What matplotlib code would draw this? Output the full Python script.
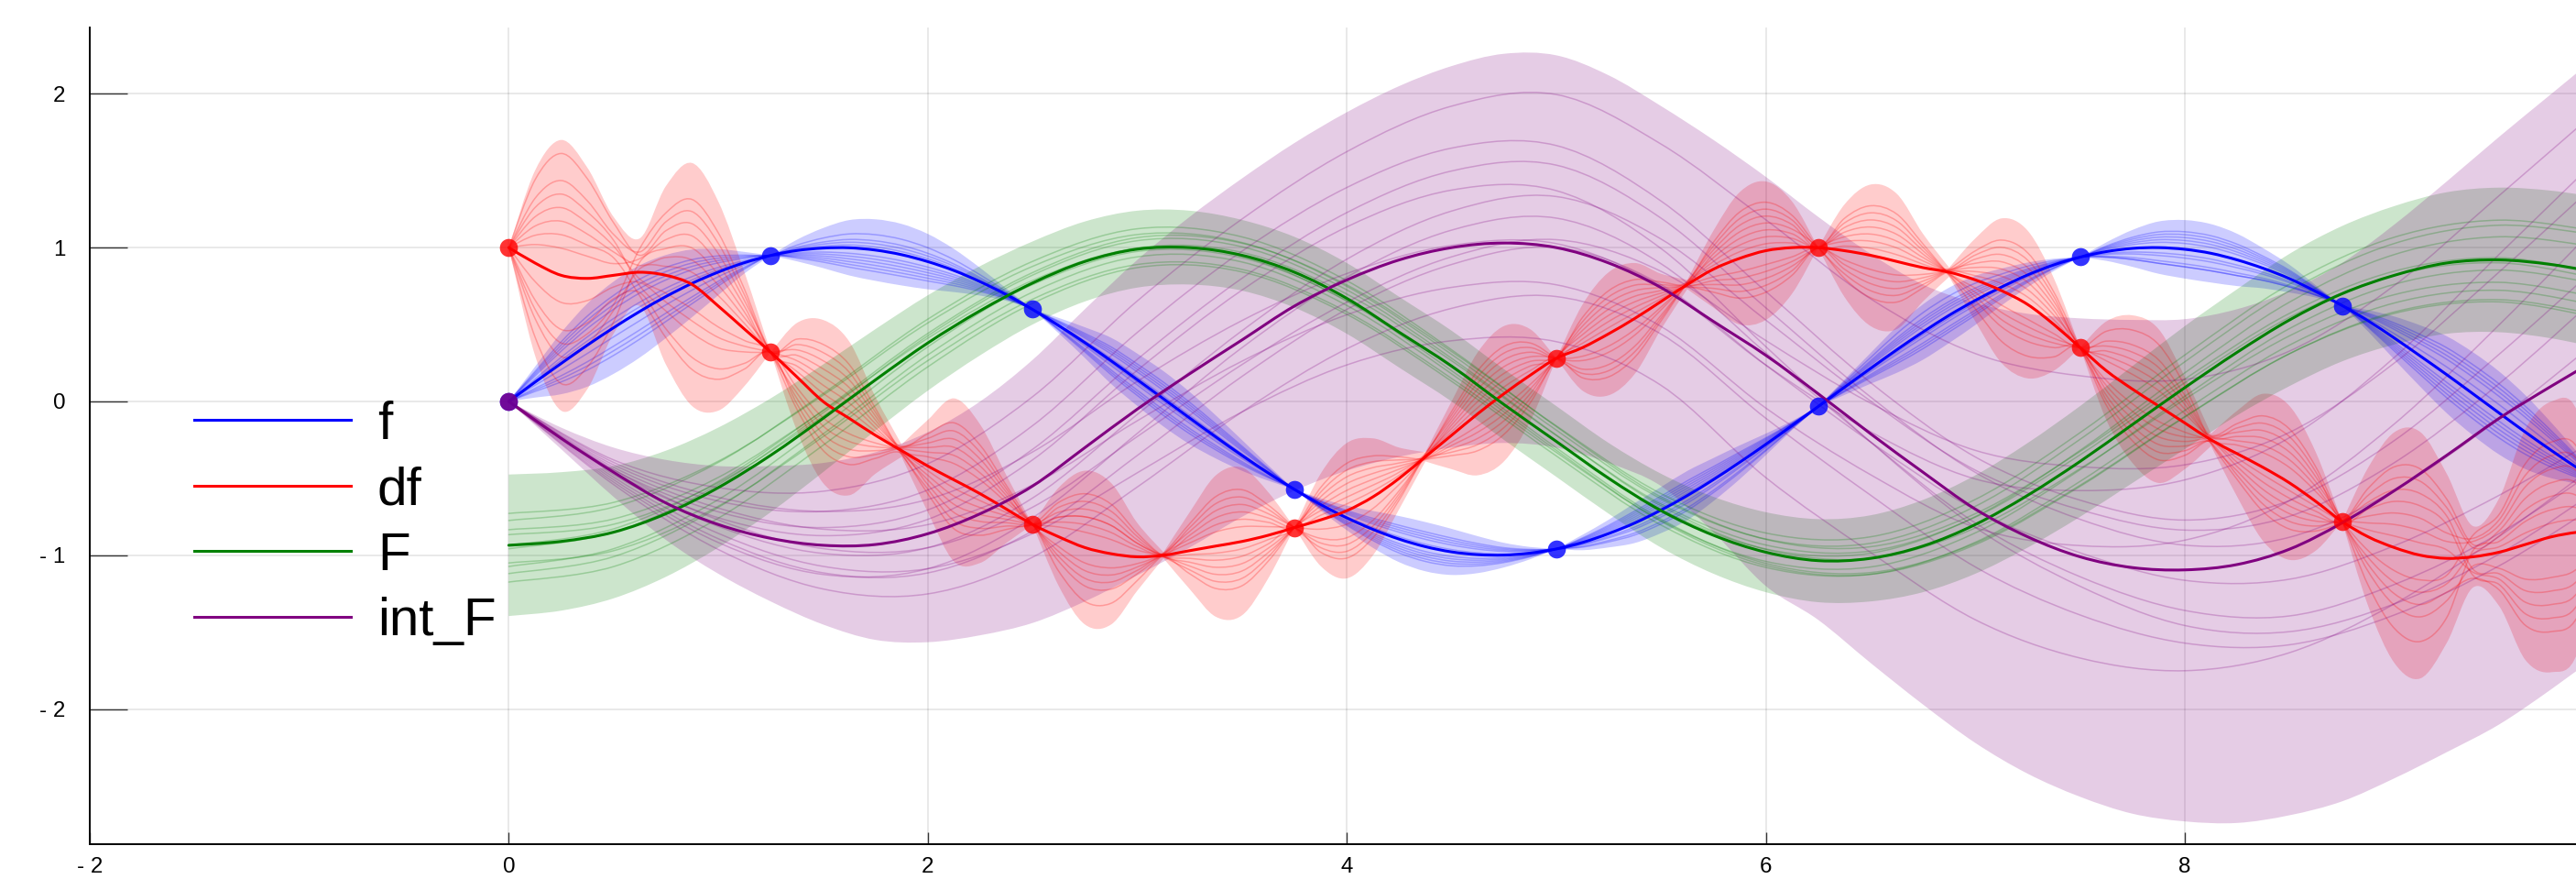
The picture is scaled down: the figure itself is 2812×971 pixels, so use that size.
import numpy as np
import matplotlib
matplotlib.use("Agg")
import matplotlib.pyplot as plt
from matplotlib.path import Path
from matplotlib.patches import PathPatch
from matplotlib.lines import Line2D

# ---------------- data ----------------
series_names = ["f", "df", "F", "int_F"]
series_colors = ["#0000ff", "#ff0000", "#008000", "#800080"]

x_ticks = [-2, 0, 2, 4, 6, 8]
x_tick_labels = ["- 2", "0", "2", "4", "6", "8"]
y_ticks = [-2, -1, 0, 1, 2]
y_tick_labels = ["- 2", "- 1", "0", "1", "2"]

# observation points
obs_x = [0.0, 1.25, 2.5, 3.75, 5.0, 6.25, 7.5, 8.75, 10.0]
f_obs = [0.0, 0.95, 0.60, -0.57, -0.96, -0.03, 0.94, 0.62, -0.54]
df_obs = [1.0, 0.32, -0.80, -0.82, 0.28, 1.0, 0.35, -0.78, -0.84]
intF_obs_x = [0.0]
intF_obs = [0.0]

# fine grid (step 0.125, x = 0 .. 10) : f and df
f_mean = [0.0, 0.125, 0.247, 0.366, 0.479, 0.585, 0.682, 0.768, 0.841, 0.902,
          0.949, 0.981, 0.997, 0.999, 0.984, 0.954, 0.909, 0.851, 0.778, 0.694,
          0.598, 0.493, 0.382, 0.264, 0.141, 0.017, -0.108, -0.231, -0.351, -0.465,
          -0.572, -0.67, -0.757, -0.832, -0.895, -0.944, -0.978, -0.996, -0.999, -0.986,
          -0.959, -0.917, -0.859, -0.79, -0.706, -0.612, -0.508, -0.396, -0.279, -0.157,
          -0.033, 0.092, 0.215, 0.336, 0.451, 0.56, 0.657, 0.744, 0.823, 0.888,
          0.938, 0.974, 0.995, 1.0, 0.989, 0.963, 0.92, 0.865, 0.798, 0.715,
          0.624, 0.524, 0.412, 0.294, 0.174, 0.05, -0.075, -0.199, -0.319, -0.434,
          -0.544]
f_halfwidth = [0.0, 0.1, 0.2, 0.27, 0.3, 0.3, 0.27, 0.22, 0.15, 0.07,
               0.0, 0.07, 0.13, 0.18, 0.2, 0.2, 0.18, 0.14, 0.09, 0.04,
               0.0, 0.05, 0.1, 0.15, 0.17, 0.18, 0.17, 0.14, 0.1, 0.05,
               0.0, 0.04, 0.08, 0.12, 0.15, 0.16, 0.15, 0.12, 0.08, 0.04,
               0.0, 0.05, 0.09, 0.13, 0.15, 0.16, 0.14, 0.11, 0.07, 0.03,
               0.0, 0.05, 0.1, 0.15, 0.18, 0.18, 0.16, 0.12, 0.08, 0.04,
               0.0, 0.06, 0.12, 0.17, 0.19, 0.19, 0.17, 0.13, 0.09, 0.04,
               0.0, 0.07, 0.14, 0.2, 0.25, 0.27, 0.27, 0.24, 0.18, 0.1,
               0.0]
df_mean = [1.0, 0.9, 0.82, 0.8, 0.82, 0.84, 0.82, 0.76, 0.62, 0.47,
           0.32, 0.16, 0.0, -0.11, -0.22, -0.32, -0.42, -0.51, -0.6, -0.7,
           -0.8, -0.88, -0.95, -0.99, -1.01, -1.0, -0.97, -0.94, -0.91, -0.87,
           -0.82, -0.77, -0.71, -0.62, -0.5, -0.36, -0.22, -0.08, 0.05, 0.17,
           0.28, 0.35, 0.44, 0.54, 0.65, 0.76, 0.86, 0.93, 0.98, 1.0,
           1.0, 0.98, 0.95, 0.91, 0.87, 0.84, 0.79, 0.72, 0.63, 0.5,
           0.35, 0.2, 0.08, -0.03, -0.14, -0.25, -0.34, -0.43, -0.53, -0.65,
           -0.78, -0.88, -0.95, -1.0, -1.02, -1.01, -0.98, -0.93, -0.88, -0.85,
           -0.84]
df_halfwidth = [0.0, 0.6, 0.88, 0.72, 0.38, 0.22, 0.58, 0.79, 0.68, 0.37,
                0.0, 0.35, 0.53, 0.5, 0.25, 0.04, 0.3, 0.53, 0.45, 0.22,
                0.0, 0.32, 0.5, 0.46, 0.22, 0.02, 0.25, 0.46, 0.48, 0.28,
                0.0, 0.3, 0.44, 0.38, 0.2, 0.03, 0.22, 0.4, 0.44, 0.3,
                0.0, 0.28, 0.4, 0.36, 0.18, 0.03, 0.25, 0.43, 0.45, 0.3,
                0.0, 0.3, 0.46, 0.44, 0.22, 0.03, 0.27, 0.47, 0.48, 0.3,
                0.0, 0.32, 0.48, 0.5, 0.3, 0.04, 0.28, 0.48, 0.5, 0.32,
                0.0, 0.45, 0.75, 0.8, 0.55, 0.2, 0.35, 0.75, 0.88, 0.78,
                0.0]

# medium grid (step 0.25, x = 0 .. 10) : F and int_F
F_mean = [-0.935, -0.91, -0.85, -0.73, -0.56, -0.35, -0.11, 0.14, 0.38, 0.59,
          0.77, 0.91, 0.99, 1.0, 0.95, 0.84, 0.67, 0.45, 0.23, -0.02,
          -0.26, -0.5, -0.71, -0.87, -0.98, -1.035, -1.02, -0.94, -0.8, -0.61,
          -0.39, -0.15, 0.09, 0.32, 0.53, 0.7, 0.82, 0.9, 0.92, 0.89,
          0.83]
F_halfwidth = [0.46, 0.45, 0.43, 0.41, 0.39, 0.37, 0.35, 0.33, 0.31, 0.29,
               0.27, 0.26, 0.25, 0.24, 0.23, 0.23, 0.23, 0.23, 0.23, 0.23,
               0.23, 0.23, 0.24, 0.25, 0.26, 0.27, 0.28, 0.3, 0.32, 0.34,
               0.36, 0.38, 0.4, 0.41, 0.43, 0.44, 0.45, 0.46, 0.47, 0.48,
               0.49]
intF_mean = [0.0, -0.24, -0.46, -0.66, -0.8, -0.89, -0.935, -0.93, -0.86, -0.73,
             -0.55, -0.3, -0.05, 0.18, 0.4, 0.62, 0.79, 0.92, 1.0, 1.03,
             1.0, 0.9, 0.74, 0.52, 0.3, 0.05, -0.21, -0.46, -0.7, -0.88,
             -1.01, -1.08, -1.095, -1.06, -0.96, -0.79, -0.58, -0.35, -0.11, 0.1,
             0.3]
intF_upper = [0.0, -0.17, -0.3, -0.38, -0.42, -0.42, -0.4, -0.33, -0.2, 0.0,
              0.27, 0.6, 0.92, 1.2, 1.45, 1.68, 1.88, 2.05, 2.18, 2.26,
              2.25, 2.12, 1.92, 1.7, 1.46, 1.2, 0.96, 0.76, 0.64, 0.57,
              0.54, 0.53, 0.535, 0.6, 0.72, 0.9, 1.15, 1.43, 1.72, 2.0,
              2.28]
intF_lower = [0.0, -0.31, -0.62, -0.9, -1.12, -1.3, -1.45, -1.55, -1.565, -1.52,
              -1.44, -1.3, -1.13, -0.95, -0.75, -0.58, -0.45, -0.36, -0.3, -0.27,
              -0.3, -0.4, -0.55, -0.85, -1.2, -1.42, -1.7, -1.97, -2.22, -2.42,
              -2.57, -2.68, -2.73, -2.74, -2.69, -2.6, -2.45, -2.28, -2.1, -1.87,
              -1.62]

# posterior sample paths, expressed as positions inside the band
# (-1 = lower edge, +1 = upper edge)
# df samples: one value per half-interval lobe (16 lobes)
df_sample_pos = [
    [0.9, 0.5, -0.3, 0.6, 0.4, -0.5, 0.2, 0.7, -0.6, 0.3, 0.5, -0.2, 0.8, -0.4, 0.3, 0.6],
    [0.6, -0.4, 0.5, -0.2, -0.7, 0.3, 0.6, -0.3, 0.4, 0.7, -0.5, 0.4, -0.3, 0.5, -0.7, 0.2],
    [-0.5, 0.7, 0.2, -0.6, 0.3, 0.6, -0.4, 0.2, 0.7, -0.3, 0.2, 0.6, 0.4, -0.6, 0.5, -0.4],
    [0.3, -0.7, -0.5, 0.4, 0.6, -0.2, -0.7, 0.5, -0.2, 0.5, 0.7, -0.5, -0.4, 0.3, -0.2, 0.7],
    [-0.8, 0.3, 0.6, 0.2, -0.4, -0.6, 0.4, -0.6, 0.3, -0.6, -0.3, 0.3, 0.6, 0.6, 0.4, -0.6],
    [0.4, 0.2, -0.6, -0.4, 0.5, 0.4, 0.1, 0.4, -0.5, 0.2, 0.4, -0.7, -0.6, -0.2, 0.7, 0.4],
    [-0.2, -0.3, 0.3, 0.7, -0.2, 0.2, -0.2, -0.5, 0.6, 0.4, -0.6, 0.1, 0.3, 0.4, -0.5, -0.3],
    [0.7, 0.6, 0.4, -0.3, 0.2, -0.4, 0.5, 0.3, 0.2, -0.4, 0.3, 0.5, -0.2, -0.5, 0.2, 0.5],
    [-0.4, -0.6, -0.2, 0.3, -0.5, 0.5, -0.5, 0.6, -0.3, 0.6, 0.1, -0.4, 0.5, 0.2, -0.4, -0.7],
    [0.2, 0.4, 0.7, -0.5, 0.7, -0.3, 0.3, -0.2, 0.5, -0.5, -0.4, 0.7, -0.5, -0.3, 0.6, 0.3],
    [0.5, -0.2, -0.4, 0.5, -0.3, 0.7, -0.6, 0.1, -0.7, 0.1, 0.6, -0.3, 0.2, 0.7, -0.3, 0.1],
    [-0.6, 0.1, 0.1, -0.1, 0.4, -0.1, 0.7, -0.4, 0.1, -0.2, -0.2, 0.2, -0.7, -0.1, 0.1, -0.5],
]
# f samples: one value per observation interval (8 intervals)
f_sample_pos = [
    [0.5, -0.6, 0.4, -0.3, 0.6, -0.4, 0.3, 0.5],
    [-0.4, -0.3, 0.6, 0.4, -0.5, 0.5, -0.6, -0.3],
    [0.7, 0.2, -0.5, 0.6, 0.2, -0.6, 0.5, 0.7],
    [-0.6, -0.7, -0.2, -0.5, 0.4, 0.3, -0.3, -0.6],
    [0.2, 0.5, 0.3, 0.1, -0.6, 0.7, 0.6, 0.2],
    [0.4, -0.4, -0.6, -0.6, -0.2, -0.2, -0.5, -0.4],
    [-0.2, 0.3, 0.1, 0.3, 0.5, 0.2, 0.2, 0.4],
    [0.6, -0.5, -0.4, -0.2, 0.3, -0.5, -0.2, -0.5],
    [-0.5, 0.1, 0.5, 0.5, -0.3, 0.4, 0.4, 0.6],
    [0.1, -0.2, -0.1, -0.4, 0.1, -0.1, -0.6, -0.2],
]
# F and int_F samples: value every 0.5 (x = 0 .. 10)
F_sample_pos = [
    [0.45, 0.45, 0.44, 0.43, 0.42, 0.4, 0.38, 0.36, 0.34, 0.33, 0.32, 0.32, 0.33, 0.35, 0.37, 0.4, 0.42, 0.44, 0.46, 0.48, 0.5],
    [0.35, 0.38, 0.42, 0.46, 0.5, 0.52, 0.53, 0.52, 0.5, 0.46, 0.42, 0.37, 0.32, 0.27, 0.22, 0.18, 0.14, 0.1, 0.06, 0.03, 0.0],
    [0.15, 0.12, 0.08, 0.04, 0.0, -0.04, -0.06, -0.07, -0.06, -0.03, 0.0, 0.04, 0.08, 0.12, 0.16, 0.2, 0.24, 0.27, 0.3, 0.32, 0.34],
    [-0.05, 0.0, 0.05, 0.1, 0.15, 0.19, 0.22, 0.24, 0.24, 0.22, 0.18, 0.13, 0.07, 0.0, -0.07, -0.13, -0.19, -0.24, -0.28, -0.31, -0.33],
    [-0.25, -0.28, -0.31, -0.34, -0.37, -0.39, -0.4, -0.4, -0.38, -0.35, -0.31, -0.27, -0.23, -0.2, -0.17, -0.15, -0.14, -0.13, -0.13, -0.14, -0.15],
    [-0.4, -0.37, -0.33, -0.29, -0.25, -0.22, -0.2, -0.19, -0.2, -0.22, -0.25, -0.29, -0.33, -0.37, -0.41, -0.45, -0.48, -0.51, -0.53, -0.55, -0.56],
    [-0.52, -0.52, -0.51, -0.5, -0.5, -0.49, -0.48, -0.47, -0.45, -0.43, -0.41, -0.39, -0.38, -0.37, -0.36, -0.36, -0.37, -0.38, -0.4, -0.42, -0.44],
    [0.22, 0.2, 0.17, 0.14, 0.1, 0.06, 0.02, -0.03, -0.08, -0.13, -0.18, -0.23, -0.28, -0.33, -0.38, -0.43, -0.47, -0.51, -0.55, -0.58, -0.6],
    [0.0, 0.05, 0.1, 0.15, 0.2, 0.25, 0.3, 0.34, 0.38, 0.41, 0.44, 0.46, 0.48, 0.5, 0.51, 0.52, 0.53, 0.54, 0.55, 0.55, 0.55],
    [-0.3, -0.25, -0.2, -0.14, -0.08, -0.02, 0.03, 0.08, 0.12, 0.15, 0.17, 0.18, 0.18, 0.17, 0.15, 0.12, 0.08, 0.04, 0.0, -0.04, -0.08],
]
intF_sample_pos = [
    [0, 0.5, 0.6, 0.65, 0.7, 0.72, 0.74, 0.76, 0.78, 0.79, 0.8, 0.8, 0.79, 0.78, 0.77, 0.76, 0.76, 0.77, 0.78, 0.8, 0.82],
    [0, 0.3, 0.35, 0.4, 0.45, 0.5, 0.54, 0.57, 0.58, 0.57, 0.54, 0.5, 0.44, 0.37, 0.3, 0.24, 0.2, 0.2, 0.22, 0.26, 0.3],
    [0, 0.1, 0.15, 0.2, 0.26, 0.32, 0.37, 0.41, 0.44, 0.45, 0.44, 0.41, 0.36, 0.3, 0.23, 0.16, 0.1, 0.06, 0.04, 0.04, 0.05],
    [0, -0.1, -0.12, -0.12, -0.1, -0.05, 0.02, 0.1, 0.18, 0.24, 0.28, 0.3, 0.3, 0.28, 0.24, 0.2, 0.16, 0.14, 0.14, 0.16, 0.2],
    [0, -0.3, -0.35, -0.36, -0.34, -0.3, -0.24, -0.17, -0.1, -0.04, 0.02, 0.06, 0.08, 0.08, 0.06, 0.02, -0.04, -0.1, -0.16, -0.22, -0.28],
    [0, -0.5, -0.55, -0.56, -0.54, -0.5, -0.44, -0.38, -0.32, -0.27, -0.23, -0.2, -0.18, -0.18, -0.2, -0.24, -0.29, -0.35, -0.41, -0.46, -0.5],
    [0, 0.2, 0.22, 0.18, 0.12, 0.05, -0.02, -0.08, -0.13, -0.16, -0.17, -0.16, -0.13, -0.08, -0.02, 0.05, 0.12, 0.2, 0.28, 0.36, 0.44],
    [0, -0.2, -0.25, -0.28, -0.3, -0.32, -0.35, -0.38, -0.41, -0.44, -0.46, -0.47, -0.47, -0.46, -0.44, -0.42, -0.4, -0.38, -0.37, -0.36, -0.36],
    [0, 0.4, 0.42, 0.4, 0.36, 0.3, 0.23, 0.16, 0.1, 0.06, 0.04, 0.05, 0.08, 0.13, 0.2, 0.28, 0.36, 0.44, 0.52, 0.6, 0.66],
    [0, -0.4, -0.42, -0.38, -0.3, -0.2, -0.1, 0.0, 0.08, 0.14, 0.17, 0.17, 0.14, 0.08, 0.0, -0.08, -0.16, -0.24, -0.3, -0.35, -0.38],
    [0, 0.0, 0.04, 0.1, 0.17, 0.24, 0.3, 0.34, 0.36, 0.35, 0.31, 0.25, 0.17, 0.08, -0.02, -0.12, -0.22, -0.3, -0.37, -0.42, -0.45],
    [0, 0.1, 0.0, -0.06, -0.1, -0.12, -0.12, -0.1, -0.06, 0.0, 0.06, 0.13, 0.2, 0.27, 0.33, 0.38, 0.42, 0.46, 0.5, 0.54, 0.58],
]

# ---------------- helpers ----------------
def bezier_path(x, y, breaks=()):
    pts = np.column_stack([np.asarray(x, float), np.asarray(y, float)])
    n = len(pts)
    brk = set(breaks)
    verts = [pts[0]]
    codes = [Path.MOVETO]
    for i in range(n - 1):
        p1, p2 = pts[i], pts[i + 1]
        p0 = pts[i - 1] if (i > 0 and i not in brk) else p1
        p3 = pts[i + 2] if (i + 2 < n and (i + 1) not in brk) else p2
        verts += [p1 + (p2 - p0) / 6.0, p2 - (p3 - p1) / 6.0, p2]
        codes += [Path.CURVE4] * 3
    return verts, codes


def smooth_line(ax, x, y, color, lw, alpha=1.0, z=3):
    v, c = bezier_path(x, y)
    ax.add_patch(PathPatch(Path(v, c), fill=False, edgecolor=color, lw=lw,
                           alpha=alpha, zorder=z, capstyle="round", joinstyle="round"))


def smooth_band(ax, x, lo, hi, color, alpha, breaks=(), z=1):
    x = np.asarray(x, float)
    n = len(x)
    v1, c1 = bezier_path(x, hi, breaks)
    rb = [n - 1 - b for b in breaks]
    v2, c2 = bezier_path(x[::-1], np.asarray(lo)[::-1], rb)
    c2[0] = Path.LINETO
    verts = v1 + v2 + [v1[0]]
    codes = c1 + c2 + [Path.CLOSEPOLY]
    ax.add_patch(PathPatch(Path(verts, codes), facecolor=color, edgecolor="none",
                           alpha=alpha, zorder=z))


# ---------------- figure ----------------
plt.rcParams["font.family"] = ["Liberation Sans", "DejaVu Sans"]
fig = plt.figure(figsize=(14.06, 4.855), dpi=200)
ax = fig.add_axes([0.03485, 0.0515, 0.96515, 0.9171])

x_fine = np.arange(len(f_mean)) * 0.125
x_med = np.arange(len(F_mean)) * 0.25
x_coarse = np.arange(len(F_sample_pos[0])) * 0.5

BAND_A = 0.2
SAMPLE_A = 0.25
SAMPLE_LW = 0.55
MEAN_LW = 1.1

cf, cdf, cF, cI = series_colors

fm, fw = np.array(f_mean), np.array(f_halfwidth)
dm, dw = np.array(df_mean), np.array(df_halfwidth)
Fm, Fw = np.array(F_mean), np.array(F_halfwidth)
Im, Ilo, Ihi = np.array(intF_mean), np.array(intF_lower), np.array(intF_upper)

f_breaks = [i for i in range(len(fw)) if fw[i] <= 0.0]
df_breaks = [i for i in range(len(dw)) if dw[i] <= 0.05]

# bands
smooth_band(ax, x_fine, fm - fw, fm + fw, cf, BAND_A, f_breaks)
smooth_band(ax, x_fine, dm - dw, dm + dw, cdf, BAND_A, df_breaks)
smooth_band(ax, x_med, Fm - Fw, Fm + Fw, cF, BAND_A)
smooth_band(ax, x_med, Ilo, Ihi, cI, BAND_A, [0])

# samples
for pos in f_sample_pos:
    zz = np.append(np.repeat(pos, 10), pos[-1])
    smooth_line(ax, x_fine, fm + zz * fw, cf, SAMPLE_LW, SAMPLE_A, 2)
for pos in df_sample_pos:
    zz = np.append(np.repeat(pos, 5), pos[-1])
    smooth_line(ax, x_fine, dm + zz * dw, cdf, SAMPLE_LW, SAMPLE_A, 2)
for pos in F_sample_pos:
    smooth_line(ax, x_coarse, Fm[::2] + np.array(pos) * Fw[::2], cF, SAMPLE_LW, SAMPLE_A, 2)
Ic = (Ihi + Ilo) / 2.0
Ih = (Ihi - Ilo) / 2.0
for pos in intF_sample_pos:
    smooth_line(ax, x_coarse, Ic[::2] + np.array(pos) * Ih[::2], cI, SAMPLE_LW, SAMPLE_A, 2)

# means
smooth_line(ax, x_fine, fm, cf, MEAN_LW, 1.0, 3)
smooth_line(ax, x_fine, dm, cdf, MEAN_LW, 1.0, 3)
smooth_line(ax, x_med, Fm, cF, MEAN_LW, 1.0, 3)
smooth_line(ax, x_med, Im, cI, MEAN_LW, 1.0, 3)

# observations
ax.scatter(obs_x, f_obs, s=50, color=cf, alpha=0.8, linewidths=0, zorder=5)
ax.scatter(obs_x, df_obs, s=50, color=cdf, alpha=0.8, linewidths=0, zorder=5)
ax.scatter(intF_obs_x, intF_obs, s=50, color=cI, alpha=0.8, linewidths=0, zorder=6)

# axes styling
ax.set_xlim(-2, 9.867)
ax.set_ylim(-2.878, 2.428)
ax.set_xticks(x_ticks)
ax.set_xticklabels(x_tick_labels)
ax.set_yticks(y_ticks)
ax.set_yticklabels(y_tick_labels)
ax.grid(True, color="black", alpha=0.1, lw=0.6)
ax.set_axisbelow(True)
for s in ("top", "right"):
    ax.spines[s].set_visible(False)
for s in ("left", "bottom"):
    ax.spines[s].set_linewidth(0.7)
    ax.spines[s].set_color("black")
ax.tick_params(axis="y", direction="in", length=14.8, width=0.5, color="#333333",
               labelsize=8.7, pad=9.5)
ax.tick_params(axis="x", direction="in", length=4.7, width=0.5, color="#333333",
               labelsize=8.7, pad=5.2)

handles = [Line2D([], [], color=c, lw=MEAN_LW) for c in series_colors]
ax.legend(handles, series_names, loc="center left", bbox_to_anchor=(-1.5, -0.7925),
          bbox_transform=ax.transData, frameon=False, fontsize=21,
          handlelength=2.92, handletextpad=0.5, labelspacing=0.3,
          borderpad=0, borderaxespad=0)

fig.savefig("out.png", dpi=200)
